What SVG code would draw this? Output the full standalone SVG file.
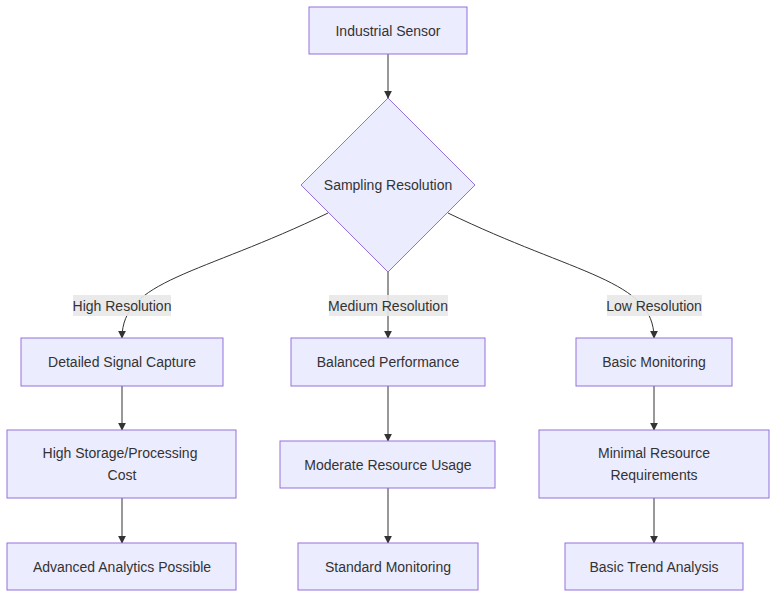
<svg xmlns="http://www.w3.org/2000/svg" width="784" height="605" viewBox="0 0 784 605">
<defs>
<style>
.node rect,.node polygon{fill:#ECECFF;stroke:#9370DB;stroke-width:1}
text{font-family:"Liberation Sans",Arial,sans-serif;font-size:14px;fill:#333;text-anchor:middle;dominant-baseline:central}
.edge{fill:none;stroke:#333;stroke-width:1}
.lbl rect{fill:#e8e8e8;opacity:0.9}
</style>
<marker id="arrow" viewBox="0 0 10 10" refX="9" refY="5" markerWidth="8" markerHeight="8" orient="auto" markerUnits="userSpaceOnUse">
<path d="M0,0 L10,5 L0,10 z" fill="#333"/>
</marker>
</defs>
<rect width="784" height="605" fill="#fff"/>
<g id="edges">
<path class="edge" d="M388,54 L388,98" marker-end="url(#arrow)"/>
<path class="edge" d="M328,213 C200,275 122,280 122,338" marker-end="url(#arrow)"/>
<path class="edge" d="M388,272 L388,338" marker-end="url(#arrow)"/>
<path class="edge" d="M448,213 C576,275 654,280 654,338" marker-end="url(#arrow)"/>
<path class="edge" d="M122,386 L122,430" marker-end="url(#arrow)"/>
<path class="edge" d="M122,498 L122,543" marker-end="url(#arrow)"/>
<path class="edge" d="M388,386 L388,441" marker-end="url(#arrow)"/>
<path class="edge" d="M388,488 L388,543" marker-end="url(#arrow)"/>
<path class="edge" d="M654,386 L654,430" marker-end="url(#arrow)"/>
<path class="edge" d="M654,498 L654,543" marker-end="url(#arrow)"/>
</g>
<g id="edge-labels">
<g class="lbl"><rect x="73" y="295" width="98" height="21"/><text x="122" y="305.5">High Resolution</text></g>
<g class="lbl"><rect x="329" y="295" width="119" height="21"/><text x="388" y="305.5">Medium Resolution</text></g>
<g class="lbl"><rect x="607" y="295" width="95" height="21"/><text x="654" y="305.5">Low Resolution</text></g>
</g>
<g id="sensor" class="node"><rect x="309" y="7" width="158" height="47"/><text x="388" y="30.5">Industrial Sensor</text></g>
<g id="sampling" class="node"><polygon points="388,98 475,185 388,272 301,185"/><text x="388" y="185">Sampling Resolution</text></g>
<g id="detailed" class="node"><rect x="21" y="338" width="202" height="48"/><text x="122" y="362">Detailed Signal Capture</text></g>
<g id="balanced" class="node"><rect x="291" y="338" width="194" height="48"/><text x="388" y="362">Balanced Performance</text></g>
<g id="basic" class="node"><rect x="576" y="338" width="156" height="48"/><text x="654" y="362">Basic Monitoring</text></g>
<g id="highcost" class="node"><rect x="7" y="430" width="229" height="68"/><text x="120" y="453">High Storage/Processing</text><text x="122" y="475">Cost</text></g>
<g id="moderate" class="node"><rect x="280" y="441" width="215" height="47"/><text x="388" y="464.5">Moderate Resource Usage</text></g>
<g id="minimal" class="node"><rect x="539" y="430" width="230" height="68"/><text x="654" y="453">Minimal Resource</text><text x="654" y="475">Requirements</text></g>
<g id="advanced" class="node"><rect x="7" y="543" width="229" height="47"/><text x="122" y="566.5">Advanced Analytics Possible</text></g>
<g id="standard" class="node"><rect x="298" y="543" width="180" height="47"/><text x="388" y="566.5">Standard Monitoring</text></g>
<g id="trend" class="node"><rect x="565" y="543" width="178" height="47"/><text x="654" y="566.5">Basic Trend Analysis</text></g>
</svg>
